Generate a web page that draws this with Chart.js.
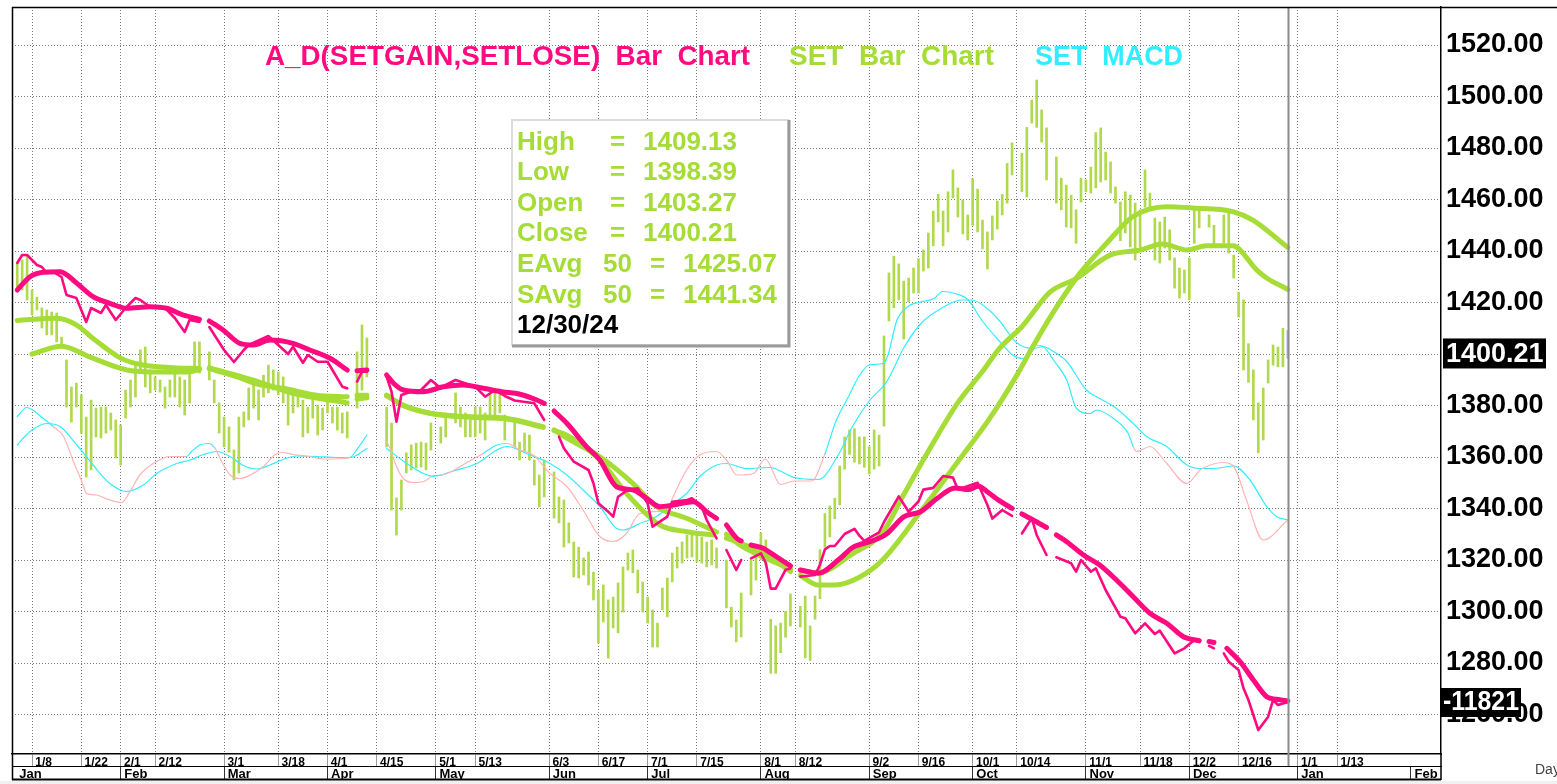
<!DOCTYPE html>
<html>
<head>
<meta charset="utf-8">
<title>SET Bar Chart</title>
<script src="https://cdn.jsdelivr.net/npm/chart.js@4.4.1/dist/chart.umd.min.js"></script>
<style>
  html, body { margin: 0; padding: 0; background: #fff; }
  canvas { display: block; }
</style>
</head>
<body>
<canvas id="chart" width="1557" height="784"></canvas>
<script>
/**
 * SET daily bars with 50-day averages, A_D line and MACD.
 * x values are weekday numbers: 0 = Mon 1/1/24, holidays are null.
 */

const BAR_START = 2;
const barHigh = [
  1435.7, 1436.5, 1438.4, 1424.9, 1422.1, 1417.9, 1417.1, 1416.3, 1415.9, 1406.6,
  1397.7, 1387.2, 1388.7, 1384.1, 1375.5, 1382.1, 1379.0, 1379.4, 1379.4, 1377.1,
  1374.4, 1372.4, 1386.0, 1389.9, 1396.9, 1401.6, 1402.7, 1393.8, 1391.1, 1389.9,
  1387.2, 1389.9, 1392.6, 1391.1, 1389.9, 1392.6, 1404.7, 1404.7, null, 1400.8,
  1389.9, 1381.0, 1375.5, 1371.7, 1362.7, 1375.5, 1377.5, 1386.8, 1388.7, 1386.0,
  1391.8, 1395.7, 1393.8, 1393.0, 1391.1, 1386.0, 1386.0, 1386.0, 1382.1, 1379.4,
  1384.1, 1380.2, 1379.0, 1384.1, 1379.4, 1379.4, 1377.1, 1377.5, null, 1400.8,
  1411.3, 1406.2, null, null, null, 1379.4, 1373.2, 1344.1, 1351.1, 1361.6,
  1364.7, 1365.4, 1365.8, 1365.4, 1373.2, null, 1371.7, 1377.1, null, 1384.9,
  1379.4, 1377.1, 1374.4, 1379.4, 1379.4, 1377.1, 1384.9, 1384.9, 1386.0, 1376.3,
  null, 1373.6, 1365.8, 1369.3, 1368.5, 1358.8, 1353.0, 1358.8, null, 1354.2,
  1344.5, 1343.3, 1334.4, 1327.0, 1325.0, 1320.8, 1323.1, 1315.3, 1308.3, 1310.3,
  1304.5, 1305.6, 1311.1, 1317.3, 1322.7, 1323.9, 1316.1, 1311.5, 1305.6, 1300.6,
  1295.5, 1309.1, 1313.0, 1322.7, 1325.0, 1327.0, 1329.7, 1330.5, 1329.7, 1328.9,
  1327.0, 1327.8, 1324.7, null, 1320.0, 1301.7, 1296.7, 1307.2, null, 1320.0,
  1321.2, 1330.5, 1327.8, 1297.0, 1294.4, 1295.5, 1300.0, 1306.8, null, 1302.0,
  1306.0, 1294.4, 1306.0, 1324.0, 1338.0, 1341.0, 1344.0, 1356.5, 1367.8, 1370.5,
  1371.0, 1367.8, 1367.8, 1364.0, 1370.5, 1368.5, 1407.0, 1431.5, 1438.0, 1435.0,
  1428.3, 1429.5, 1433.4, 1437.0, 1440.4, 1447.0, 1455.5, 1462.0, 1455.5, 1463.0,
  1471.5, 1464.5, 1459.8, 1454.0, 1468.0, 1464.0, 1452.0, 1447.4, 1453.6, 1459.4,
  1462.0, 1474.0, 1482.0, null, 1478.0, 1488.0, 1498.6, 1506.4, 1494.8, 1487.8,
  null, 1476.5, 1468.3, 1465.6, 1461.7, 1456.0, 1468.3, 1467.6, 1472.6, 1486.0,
  1487.8, 1478.4, 1474.6, 1464.9, 1459.0, 1463.0, 1461.7, 1458.6, 1456.0, 1471.5,
  1462.5, 1452.8, 1451.3, 1453.2, 1448.2, 1437.3, 1433.4, 1432.6, 1437.3, 1456.0,
  1456.0, null, 1454.0, 1450.0, null, 1454.0, 1454.8, 1438.4, 1424.0, 1421.0,
  1404.0, 1393.8, 1381.0, 1386.8, 1397.7, 1403.5, 1402.7, 1410.0, 1409.13
];
const barLow = [
  1426.0, 1424.9, 1421.0, 1415.1, 1417.1, 1410.1, 1407.4, 1407.4, 1404.7, 1403.5,
  1379.4, 1373.6, 1379.4, 1369.3, 1352.2, 1355.0, 1367.8, 1367.4, 1369.3, 1370.5,
  1359.6, 1356.9, 1375.1, 1379.4, 1383.3, 1392.6, 1387.2, 1384.9, 1386.0, 1385.2,
  1379.0, 1383.3, 1383.3, 1379.4, 1376.3, 1381.0, 1393.8, 1392.6, null, 1389.9,
  1381.0, 1369.3, 1363.9, 1361.9, 1351.1, 1353.8, 1371.7, 1374.4, 1379.0, 1374.4,
  1383.3, 1384.9, 1386.0, 1384.1, 1381.0, 1372.4, 1377.1, 1379.4, 1367.8, 1369.3,
  1375.1, 1368.5, 1370.5, 1377.1, 1373.2, 1370.5, 1369.3, 1367.4, null, 1379.0,
  1386.0, 1391.1, null, null, null, 1363.9, 1339.4, 1329.7, 1339.4, 1353.8,
  1355.0, 1355.7, 1356.1, 1355.0, 1362.7, null, 1365.4, 1367.8, null, 1373.2,
  1371.7, 1367.8, 1367.8, 1367.8, 1369.3, 1366.6, 1374.4, 1375.5, 1377.1, 1366.6,
  null, 1363.9, 1358.8, 1361.9, 1358.8, 1349.1, 1340.6, 1344.5, null, 1336.3,
  1334.4, 1325.0, 1326.6, 1313.4, 1313.0, 1314.2, 1310.3, 1304.5, 1287.8, 1295.9,
  1281.9, 1293.6, 1291.7, 1299.8, 1316.1, 1315.0, 1307.2, 1299.8, 1295.5, 1286.2,
  1286.2, 1300.6, 1297.9, 1311.5, 1316.9, 1318.8, 1320.8, 1321.2, 1319.2, 1318.8,
  1317.3, 1318.1, 1316.9, null, 1301.4, 1294.0, 1288.2, 1290.1, null, 1306.4,
  1312.2, 1320.0, 1318.1, 1276.0, 1276.0, 1284.0, 1290.0, 1294.4, null, 1294.0,
  1282.0, 1281.0, 1297.0, 1305.0, 1325.0, 1329.0, 1336.0, 1341.4, 1355.3, 1361.0,
  1358.0, 1357.3, 1356.0, 1353.4, 1355.3, 1356.5, 1372.0, 1412.8, 1418.0, 1421.0,
  1405.8, 1420.2, 1423.7, 1423.7, 1432.2, 1433.4, 1442.0, 1451.3, 1442.0, 1447.4,
  1460.6, 1453.2, 1446.6, 1444.3, 1450.0, 1447.4, 1440.8, 1433.0, 1444.3, 1448.5,
  1454.0, 1458.6, 1469.5, null, 1463.0, 1461.0, 1489.7, 1488.0, 1482.3, 1467.6,
  null, 1458.6, 1456.0, 1449.3, 1449.0, 1443.0, 1459.0, 1463.0, 1462.5, 1464.5,
  1466.8, 1467.6, 1462.5, 1458.6, 1444.0, 1447.0, 1441.6, 1436.5, 1441.6, 1457.0,
  1456.0, 1436.5, 1435.3, 1441.2, 1436.5, 1425.6, 1421.7, 1423.7, 1421.0, 1443.0,
  1449.0, null, 1449.3, 1442.3, null, 1443.0, 1439.2, 1429.5, 1414.4, 1393.8,
  1389.0, 1374.4, 1361.6, 1366.6, 1388.7, 1395.7, 1395.0, 1395.0, 1398.39
];
const lastOpen = 1403.27;
const lastClose = 1400.21;
const lastDate = '12/30/24';

// 50-day exponential and simple averages of SET
const emaX = [
  2, 10, 14, 17.4, 23, 27.5, 34.4, 39, 40, 41,
  46.5, 51.3, 56, 62.8, 69, 70, 71, 73, 75, 77,
  80.3, 85.8, 93.3, 101.4, 108.8, 110, 111, 113.6, 120.3, 127,
  131.8, 137.9, 144, 145, 146, 148.8, 154.8, 159, 160, 161,
  164.6, 171.5, 177.8, 182, 187.5, 193, 197.9, 201.5, 206, 211.7,
  217.1, 223.9, 230, 234.6, 239.5, 243.5, 248.8, 253.7, 255.7, 260
];
const emaY = [
  1413, 1413.9, 1411.3, 1406, 1398.4, 1395.7, 1394.6, 1394.4, null, 1394.3,
  1391.2, 1388, 1386.7, 1384, 1383.4, null, 1384, 1384, null, 1383.8,
  1380.2, 1377, 1375.7, 1375, 1371.8, null, 1370.5, 1367.3, 1360.1, 1349.8,
  1340.7, 1336.2, 1330.9, null, 1330, 1325.8, 1320, 1316.5, null, 1316,
  1315, 1322.3, 1330.9, 1345.4, 1363.9, 1381.1, 1393, 1402.3, 1410.6, 1424,
  1429.4, 1438.4, 1440.4, 1442.7, 1440.4, 1442, 1442, 1432.6, 1429.5, 1425.07
];
const smaX = [
  5, 11, 16.8, 24.3, 31, 36.5, 39, 40, 41, 47.8,
  51.3, 58, 69, 70, 71, 73, 75, 77, 80.3, 85.8,
  93.3, 101.4, 108.8, 110, 111, 113.6, 120.3, 125.7, 132.5, 137.9,
  143.3, 145, 146, 148.8, 154.8, 159, 160, 161, 164.5, 168,
  173.1, 177.8, 185.4, 193.7, 199.3, 204.9, 208.2, 212.3, 217.8, 223.2,
  228.5, 235.4, 240.7, 248.8, 252.9, 260
];
const smaY = [
  1400, 1403, 1398.8, 1393.8, 1393, 1393, 1394, null, 1394.6, 1391,
  1389, 1384.7, 1381, null, 1382.5, 1383, null, 1384, 1380, 1377,
  1375.5, 1374.8, 1371.5, null, 1370.3, 1368.5, 1358.8, 1345.9, 1333.6, 1331,
  1329.7, null, 1328.5, 1326.6, 1321.3, 1315.5, null, 1314, 1310.3, 1310.3,
  1313.4, 1320.2, 1338.7, 1360, 1374.5, 1391.5, 1402.8, 1416, 1431.4, 1443,
  1453.3, 1457.2, 1456.7, 1455.3, 1452, 1441.34
];

// A_D(SETGAIN,SETLOSE): daily line and its smoothed line
const adX = [
  2, 3, 4, 6, 7, 8, 9, 11, 12, 14,
  16, 17, 19, 20, 22, 24, 26, 27, 29, 32,
  34, 36, 37, 39, 40, 41, 44, 46, 48, 49,
  53, 57, 58, 60, 61, 63, 65, 66, 68, 69,
  70, 71, 72, 73, 75, 77, 78, 79, 80, 82,
  84, 86, 88, 89, 91, 95, 97, 99, 101, 103,
  107, 109, 110, 112, 113, 115, 118, 119, 120, 122,
  123, 124, 126, 128, 130, 131, 134, 135, 138, 139,
  141, 142, 144, 145, 146, 147, 148, 149, 150, 151,
  153, 154, 155, 156, 158, 159, 160, 161, 164, 165,
  166, 167, 168, 170, 172, 173, 174, 177, 178, 180,
  181, 183, 185, 186, 188, 190, 192, 193, 197, 199,
  200, 202, 204, 205, 206, 208, 209, 211, 212, 213,
  216, 217, 218, 220, 221, 223, 226, 227, 229, 231,
  233, 234, 237, 239, 241, 242, 243, 244, 245, 246,
  247, 248, 250, 251, 252, 254, 256, 257, 258, 260
];
const adY = [
  -3041, -2881, -2881, -3081, -3121, -3241, -3201, -3321, -3681, -3741,
  -4221, -3941, -4041, -3881, -4181, -3941, -3741, -3781, -3921, -3941,
  -4141, -4421, -4181, -4221, null, -4321, -4781, -5021, -4781, -4681,
  -4501, -4861, -4715, -5035, -4881, -5015, -5015, -5181, -5515, -5547,
  null, -5415, -5215, -5215, null, -5315, -5615, -6215, -5681, -5615,
  -5581, -5381, -5547, -5481, -5381, -5515, -5715, -5581, -5700, -5790,
  -5847, -6181, null, -6515, -6747, -7015, -7181, -7447, -7847, -8015,
  -8115, -7715, -7581, -7547, -7847, -8315, -8115, -7815, -7781, -7747,
  -7915, -8181, -8547, null, -8781, -8981, -9181, -8981, null, -8947,
  -8847, -9041, -9553, -9553, -9177, -9150, null, -9313, -9281, -9075,
  -8767, -8701, -8701, -8461, -8357, -8495, -8597, -8427, -8221, -7881,
  -7709, -8017, -7811, -7573, -7539, -7301, -7333, -7573, -7437, -7881,
  -8153, -7981, -8100, null, -8450, -8147, -8481, -8881, null, -8927,
  -9047, -9215, -8981, -9215, -9147, -9581, -10115, -10147, -10447, -10247,
  -10461, -10395, -10847, -10747, -10581, -10620, null, -10700, -10747, null,
  -10850, -11015, -11181, -11547, -11781, -12381, -12115, -11781, -11881, -11821
];
const adAvgX = [
  2, 4.6, 7.3, 10.7, 14.1, 17.4, 20.8, 24.2, 29, 32.3,
  35.7, 39, 40, 41, 43.8, 47.2, 50, 53.3, 58, 61.4,
  65.5, 69, 70, 71, 73, 75, 77, 78.4, 80.4, 84.4,
  88.5, 92.6, 96.6, 100.4, 104.1, 107.5, 109, 110, 111, 113.6,
  117.6, 120.3, 123.7, 127.1, 129.8, 132.5, 135.2, 139.3, 142, 144,
  145, 146, 148.1, 149, 150, 151, 153.5, 154.9, 159, 160,
  161, 164.7, 168.8, 171.6, 175.7, 178.5, 182, 185.4, 188.9, 192.4,
  195.1, 197.2, 199.3, 201.5, 204, 205, 206, 208.3, 211, 212,
  213, 215.1, 218.5, 221.8, 225.2, 228.6, 232, 235.4, 238.8, 242,
  243, 244, 245, 246, 247.6, 250.3, 253, 255.7, 257.7, 260
];
const adAvgY = [
  -3581, -3315, -3227, -3215, -3447, -3715, -3847, -3947, -3915, -3947,
  -4081, -4167, null, -4201, -4381, -4647, -4680, -4581, -4647, -4781,
  -4947, -5181, null, -5195, -5181, null, -5281, -5447, -5581, -5615,
  -5515, -5481, -5547, -5615, -5667, -5781, -5850, null, -6000, -6247,
  -6715, -6981, -7515, -7581, -7747, -7915, -7881, -7815, -8015, -8150,
  null, -8281, -8547, -8600, null, -8681, -8747, -8835, -9100, null,
  -9180, -9245, -8973, -8733, -8597, -8461, -8119, -8017, -7741, -7539,
  -7573, -7505, -7641, -7800, -7950, null, -8060, -8181, -8330, null,
  -8480, -8615, -8881, -9081, -9381, -9715, -10047, -10247, -10515, -10595,
  null, -10610, -10630, null, -10747, -11015, -11381, -11715, -11767, -11801
];

// SET MACD line, its average, and the stretches where the MACD shows pink
const macdX = [
  2, 3.9, 7.3, 9.3, 11.4, 13.4, 15.1, 16.1, 18.1, 20.2,
  23.2, 24.9, 26.9, 30.3, 33, 36.4, 37.4, 39.1, 40.8, 42.2,
  43.5, 45.2, 47.2, 49.3, 52, 54.7, 56, 58, 61.4, 64.1,
  68.2, 69.6, 70.9, 73, 75, 77, 77.7, 79, 80.4, 82.4,
  84.5, 86.2, 88.2, 90.2, 93.3, 96.6, 99.4, 101.4, 104.1, 106.8,
  110.2, 113.6, 116.9, 120.3, 123, 125.7, 128.4, 131.8, 133.9, 135.2,
  137.9, 140.6, 144, 146, 148.1, 151.5, 153.9, 157, 159.8, 163.3,
  166, 168.1, 170.9, 173, 175, 177.8, 178.8, 180.6, 182.7, 185.4,
  188.2, 189.9, 192.4, 195.1, 197.9, 201.4, 204.1, 206.3, 208.3, 210.3,
  212.4, 215.1, 217.1, 219.8, 221.2, 224.6, 227.6, 228.6, 229.3, 232,
  235.4, 239.5, 242.2, 244.9, 246.9, 249, 251.6, 255, 260
];
const macdY = [
  8.7, 10.5, 8.3, 6.7, 4.7, -0.3, -4.3, -6.7, -7, -7.8,
  -8.5, -6.3, -3, -0.3, 0.7, 0.7, 1.7, 3, 3.3, 2.3,
  -0.3, -3, -3.7, -3, -1.3, 1.3, 1.5, 1.1, 0.7, 0.2,
  0.3, 0.5, 2, 5, null, 3.7, 2.3, -1.3, -3.7, -4.5,
  -4.3, -3.3, -3, -2.3, -0.5, 1.3, 3, 3.3, 2, 1,
  -2.7, -5.3, -10, -15.3, -16.3, -14.7, -10.7, -10.3, -10, -7.3,
  -2, 1, 1.7, 0, -3, -2.7, 0.2, -4.9, -4.2, -4.2,
  1.2, 7.4, 12.9, 16.9, 19, 19.3, 21, 27.9, 30.6, 31.6,
  32.3, 33.7, 33.3, 32, 27.9, 23.8, 21, 20.3, 23, 22.7,
  20, 16, 10.3, 9.3, 10, 8.3, 5.3, 2.7, 1.7, 2.7,
  -0.7, -4.7, -2, -0.8, -0.5, -1.3, -8, -16, -12
];
const macdPinkRanges = [[11.4, 36.4], [43.5, 69.6], [77.7, 86.2], [90.2, 96.6], [104.1, 166], [229.3, 260]];
const sigX = [
  2, 4.6, 8, 10.7, 14.1, 17.4, 20.8, 24.2, 27.6, 30.3,
  34.4, 37.1, 39.8, 42.5, 45.2, 47.9, 50.6, 53.3, 56, 58.7,
  62.8, 66.9, 69.6, 73, 75, 77, 81.1, 84.5, 86.2, 88.2,
  90.2, 95.3, 99.4, 101.4, 106.1, 110.2, 113.6, 116.9, 120.3, 123.7,
  125.1, 128.4, 131.8, 135.2, 137.9, 140.6, 144, 146, 150.1, 154.8,
  159.8, 164.7, 168.8, 171.6, 175, 178.5, 182, 185.4, 189.6, 193.7,
  195.8, 198.6, 201.4, 204.9, 208.3, 210.3, 212.4, 215.1, 219.1, 221.8,
  225.2, 228.6, 231.3, 235.4, 239.5, 242.2, 244.9, 249, 252.3, 255.7,
  257.7, 260
];
const sigY = [
  3, 5.7, 7.3, 6.7, 3, -1, -4.7, -6.3, -5, -2.7,
  -0.7, 0, 1.1, 1.7, 0.7, -1.1, -1.8, -1, 0.1, 0.8,
  0.7, 0.5, 0.5, 2.3, null, 2.3, -0.7, -2.7, -3.2, -3,
  -2.3, -0.7, 2, 2.7, 1, -0.7, -3, -6, -9.3, -13.7,
  -14, -12.7, -11.3, -8.7, -6.7, -3.3, -1, -0.7, -1.7, -1.5,
  -3.5, -3.9, 1.2, 6.7, 11.8, 15.6, 22.4, 27.2, 30.3, 32,
  32, 30.6, 27.9, 23.5, 22.3, 22.7, 21.7, 19.7, 14, 12.3,
  10.3, 7.3, 4.7, 2.7, -1, -1.7, -1.7, -1.2, -4, -9.3,
  -11.3, -12
];

// axis ticks
const dayTickIdx = [5, 15, 23, 30, 44, 55, 65, 75, 87, 95, 110, 120, 130, 140, 153, 160, 175, 185, 196, 205, 219, 230, 240, 250, 262, 270];
const dayTickLabels = ['1/8', '1/22', '2/1', '2/12', '3/1', '3/18', '4/1', '4/15', '5/1', '5/13', '6/3', '6/17', '7/1', '7/15', '8/1', '8/12', '9/2', '9/16', '10/1', '10/14', '11/1', '11/18', '12/2', '12/16', '1/1', '1/13'];
const monthTickIdx = [0.934, 23, 44, 65, 87, 110, 130, 153, 175, 196, 219, 240, 262, 285];
const monthTickLabels = ['Jan', 'Feb', 'Mar', 'Apr', 'May', 'Jun', 'Jul', 'Aug', 'Sep', 'Oct', 'Nov', 'Dec', 'Jan', 'Feb'];
const priceTicks = [1260, 1280, 1300, 1320, 1340, 1360, 1380, 1400, 1420, 1440, 1460, 1480, 1500, 1520];

const MAGENTA = '#FF0A80';
const GREEN = '#A6DC36';
const BAR_GREEN = '#B0DA4C';
const LAVENDER = '#B8A8FF';
const CYAN = '#30EEFF';
const PINK = '#FFB4B4';
const GRID = '#7a7a7a';
const FONT = '"Liberation Sans", Arial, sans-serif';
const NARROW = '"Liberation Sans Narrow", "Arial Narrow", "Liberation Sans", Arial, sans-serif';

const pts = (xs, ys) => xs.map((x, k) => ({ x, y: ys[k] }));

const barData = [];
barHigh.forEach((h, k) => {
  if (h !== null) barData.push({ x: BAR_START + k, y: [barLow[k], h] });
});
const barColors = barData.map((d, k) => (k === barData.length - 1 ? LAVENDER : BAR_GREEN));

const isPink = (xv) => macdPinkRanges.some(([a, b]) => xv >= a && xv <= b);

/** Draw text squeezed to a given width */
function fitText(ctx, text, x, y, w, color) {
  const m = ctx.measureText(text).width;
  ctx.save();
  ctx.translate(x, y);
  ctx.scale(w / m, 1);
  ctx.fillStyle = color;
  ctx.fillText(text, 0, 0);
  ctx.restore();
}

/** Axis sizes are fixed so the plot area matches the screen layout */
function fixSize(w, h) {
  return (ax) => {
    if (w !== null) ax.width = w;
    if (h !== null) ax.height = h;
    ax.paddingTop = 0;
    ax.paddingBottom = 0;
    ax.paddingLeft = 0;
    ax.paddingRight = 0;
  };
}

const decor = {
  id: 'decor',
  beforeDraw(chart) {
    const { ctx, width, height } = chart;
    ctx.save();
    ctx.fillStyle = '#fff';
    ctx.fillRect(0, 0, width, height);
    ctx.fillStyle = '#f0f0f0';
    ctx.fillRect(0, 781, width, height - 781);
    ctx.restore();
  },
  afterDraw(chart) {
    const { ctx, chartArea: a, scales } = chart;
    ctx.save();

    // current bar marker
    const xl = Math.round(scales.x.getPixelForValue(BAR_START + barHigh.length - 1)) + 0.5;
    ctx.strokeStyle = '#8c8c8c';
    ctx.lineWidth = 2;
    ctx.beginPath();
    ctx.moveTo(xl, a.top);
    ctx.lineTo(xl, 766);
    ctx.stroke();

    // frame
    ctx.strokeStyle = '#000';
    ctx.lineWidth = 1.5;
    ctx.beginPath();
    ctx.moveTo(12, 7.5); ctx.lineTo(1557, 7.5);
    ctx.moveTo(12.5, 7); ctx.lineTo(12.5, 780);
    ctx.moveTo(a.right, a.bottom); ctx.lineTo(a.right, 780);
    ctx.stroke();
    ctx.lineWidth = 2;
    ctx.beginPath();
    ctx.moveTo(12, 779.5); ctx.lineTo(a.right, 779.5);
    ctx.stroke();

    // titles
    ctx.font = 'bold 28px ' + FONT;
    ctx.textBaseline = 'alphabetic';
    fitText(ctx, 'A_D(SETGAIN,SETLOSE)  Bar  Chart', 265, 65, 485, MAGENTA);
    fitText(ctx, 'SET  Bar  Chart', 789, 65, 205, GREEN);
    fitText(ctx, 'SET  MACD', 1035, 65, 148, CYAN);

    // data box
    ctx.fillStyle = '#fff';
    ctx.fillRect(512, 120, 276, 225);
    ctx.strokeStyle = '#dcdcdc';
    ctx.lineWidth = 2;
    ctx.strokeRect(512, 120, 276, 225);
    ctx.strokeStyle = '#9a9a9a';
    ctx.lineWidth = 3;
    ctx.beginPath();
    ctx.moveTo(789, 120); ctx.lineTo(789, 346); ctx.lineTo(512, 346);
    ctx.stroke();

    const n = barHigh.length - 1;
    const rows = [
      ['High', null, 610, 643, barHigh[n]],
      ['Low', null, 610, 643, barLow[n]],
      ['Open', null, 610, 643, lastOpen],
      ['Close', null, 610, 643, lastClose],
      ['EAvg', '50', 650, 683, emaY[emaY.length - 1]],
      ['SAvg', '50', 650, 683, smaY[smaY.length - 1]],
    ];
    ctx.font = 'bold 26px ' + FONT;
    ctx.fillStyle = GREEN;
    rows.forEach(([label, len, eqX, valX, v], k) => {
      const y = 149.5 + k * 30.6;
      ctx.fillText(label, 517, y);
      if (len) ctx.fillText(len, 603, y);
      ctx.fillText('=', eqX, y);
      ctx.fillText(v.toFixed(2), valX, y);
    });
    ctx.fillStyle = '#000';
    ctx.fillText(lastDate, 517, 149.5 + 6 * 30.6);

    // last value tags
    ctx.textBaseline = 'middle';
    ctx.font = 'bold 27px ' + FONT;
    const yc = scales.y.getPixelForValue(lastClose);
    ctx.fillStyle = '#000';
    ctx.fillRect(1443, yc - 15, 103, 30);
    ctx.fillStyle = '#fff';
    ctx.fillText(lastClose.toFixed(2), 1446, yc + 1);

    const lastAd = adY[adY.length - 1];
    const ya = scales.yAD.getPixelForValue(lastAd);
    ctx.fillStyle = '#000';
    ctx.fillRect(1441, ya - 14, 80, 29);
    fitText(ctx, String(lastAd), 1443, ya + 1, 76, '#fff');

    ctx.font = '14px ' + FONT;
    ctx.textBaseline = 'alphabetic';
    ctx.fillStyle = '#444';
    ctx.fillText('Day', 1535, 774);
    ctx.restore();
  },
};

const lineBase = { type: 'line', pointRadius: 0, spanGaps: false, borderCapStyle: 'round', borderJoinStyle: 'round', xAxisID: 'x' };

new Chart(document.getElementById('chart'), {
  type: 'line',
  data: {
    datasets: [
      { ...lineBase, label: 'A_D', data: pts(adX, adY), yAxisID: 'yAD', borderColor: MAGENTA, borderWidth: 2.6, tension: 0, order: 1 },
      { ...lineBase, label: 'A_D avg', data: pts(adAvgX, adAvgY), yAxisID: 'yAD', borderColor: MAGENTA, borderWidth: 5, cubicInterpolationMode: 'monotone', order: 2 },
      { ...lineBase, label: 'EAvg 50', data: pts(emaX, emaY), yAxisID: 'y', borderColor: GREEN, borderWidth: 5, cubicInterpolationMode: 'monotone', order: 3 },
      { ...lineBase, label: 'SAvg 50', data: pts(smaX, smaY), yAxisID: 'y', borderColor: GREEN, borderWidth: 5, cubicInterpolationMode: 'monotone', order: 4 },
      {
        ...lineBase, label: 'MACD', data: pts(macdX, macdY), yAxisID: 'yMACD', borderColor: CYAN, borderWidth: 1.2,
        cubicInterpolationMode: 'monotone', order: 5,
        segment: { borderColor: (c) => (isPink(macdX[c.p1DataIndex]) ? PINK : CYAN) },
      },
      { ...lineBase, label: 'MACD avg', data: pts(sigX, sigY), yAxisID: 'yMACD', borderColor: CYAN, borderWidth: 1.2, cubicInterpolationMode: 'monotone', order: 6 },
      {
        type: 'bar', label: 'SET', data: barData, xAxisID: 'x', yAxisID: 'y',
        backgroundColor: barColors, borderWidth: 0, borderSkipped: false, barThickness: 2, grouped: false, order: 10,
      },
    ],
  },
  options: {
    responsive: false,
    animation: false,
    devicePixelRatio: 1,
    events: [],
    layout: { padding: { left: 12, top: 7, right: 0, bottom: 5 } },
    plugins: { legend: { display: false }, tooltip: { enabled: false } },
    scales: {
      x: {
        type: 'linear', axis: 'x', position: 'bottom', min: 0.934, max: 291.1, offset: false, weight: 0,
        afterBuildTicks: (ax) => { ax.ticks = dayTickIdx.map((v) => ({ value: v })); },
        afterFit: fixSize(null, 12),
        ticks: {
          autoSkip: false, maxRotation: 0, minRotation: 0, align: 'start', padding: -11, color: '#000',
          font: { family: NARROW, size: 12, weight: 'bold' },
          callback: (v, i) => ' ' + dayTickLabels[i],
        },
        grid: { color: GRID, lineWidth: 1, drawTicks: true, tickLength: 12, tickColor: '#9a9a9a', tickBorderDash: [], offset: false },
        border: { display: true, color: '#000', width: 1.5, dash: [1, 2] },
      },
      xMonth: {
        type: 'linear', axis: 'x', position: 'bottom', min: 0.934, max: 291.1, offset: false, weight: 1,
        afterBuildTicks: (ax) => { ax.ticks = monthTickIdx.map((v) => ({ value: v })); },
        afterFit: fixSize(null, 13),
        ticks: {
          autoSkip: false, maxRotation: 0, minRotation: 0, align: 'start', padding: -12, color: '#000',
          font: { family: NARROW, size: 13, weight: 'bold' },
          callback: (v, i) => (i === 0 ? '  ' : ' ') + monthTickLabels[i],
        },
        grid: { drawOnChartArea: false, drawTicks: true, tickLength: 13, tickColor: '#333', tickBorderDash: [], offset: false },
        border: { display: true, color: '#000', width: 1 },
      },
      y: {
        type: 'linear', axis: 'y', position: 'right', min: 1244.66, max: 1534.76,
        afterBuildTicks: (ax) => { ax.ticks = priceTicks.map((v) => ({ value: v })); },
        afterFit: fixSize(116, null),
        ticks: {
          autoSkip: false, padding: 5, crossAlign: 'near', color: '#000',
          font: { family: FONT, size: 27, weight: 'bold' },
          callback: (v) => v.toFixed(2),
        },
        grid: { color: GRID, lineWidth: 1, drawTicks: false },
        border: { display: true, color: '#000', width: 1.5, dash: [1, 2] },
      },
      yAD: { type: 'linear', axis: 'y', display: false, min: -12861, max: 2079 },
      yMACD: { type: 'linear', axis: 'y', display: false, min: -58.8, max: 90.6 },
    },
  },
  plugins: [decor],
});
</script>
</body>
</html>
